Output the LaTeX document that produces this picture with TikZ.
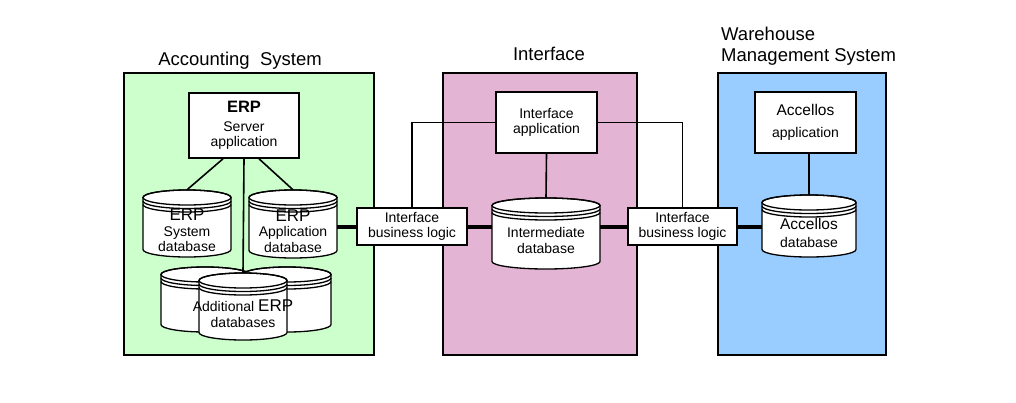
\documentclass[tikz,border=0pt]{standalone}
\usepackage{fontspec}
\setmainfont{Liberation Sans}
\usepackage{tikz}
\usetikzlibrary{positioning,calc}
\definecolor{acctgreen}{RGB}{204,255,204}
\definecolor{ifpink}{RGB}{228,180,212}
\definecolor{wmsblue}{RGB}{153,204,255}
% database: name, centre x, top, bottom, half width, text
\newcommand{\dbase}[6]{%
  \filldraw[dbline, fill=white] ({#2-#5},{#3+7.5}) -- ({#2-#5},{#4-7.5})
    arc[start angle=180, end angle=0, x radius=#5, y radius=7.5] -- ({#2+#5},{#3+7.5})
    arc[start angle=0, end angle=-180, x radius=#5, y radius=7.5] -- cycle;
  \draw[dbline] (#2,{#3+7.5}) ellipse[x radius=#5, y radius=7.5];
  \draw[dbline] ({#2-#5},{#3+11}) arc[start angle=180, end angle=0, x radius=#5, y radius=7.5];
  \draw[dbline] ({#2-#5},{#3+14.5}) arc[start angle=180, end angle=0, x radius=#5, y radius=7.5];
  \node[inner sep=0, minimum width={2*#5}, minimum height={#4-#3}] (#1) at (#2,{(#3+#4)/2}) {};
  \node[txt] (#1-txt) at (#2,{(#3+#4)/2+7}) {#6};}

\begin{document}
\begin{tikzpicture}[
    x=1pt, y=-1pt,
    font=\fontsize{14}{15.5}\selectfont,
    panel/.style={rectangle, draw=black, line width=1.8pt, minimum width=#1, minimum height=282},
    title/.style={font=\fontsize{18.5}{21}\selectfont, inner sep=0},
    txt/.style={align=center, inner sep=0},
    appbox/.style={rectangle, draw=black, line width=1.6pt, fill=white, align=center, inner sep=0},
    dbline/.style={draw=black, line width=1.3pt},
    link/.style={line width=1.6pt},
    bus/.style={line width=4pt}
]
    \useasboundingbox (0,0) rectangle (1016,402);

    % Panels
    \node[panel=250, fill=acctgreen] (acct) at (249,214) {};
    \node[panel=194, fill=ifpink] (iface) at (540,214) {};
    \node[panel=168, fill=wmsblue] (wms) at (802,214) {};
    \node[title, anchor=base] (accttitle) at (240,65) {Accounting\ \ System};
    \node[title, anchor=base] (iftitle) at (549,60) {Interface};
    \node[title, anchor=south west, align=left] (wmstitle) at (721,66) {Warehouse\\Management System};

    % Accounting system
    \node[appbox, minimum width=110, minimum height=65] (server) at (244,125.5)
        {{\fontsize{16.5}{18}\selectfont\bfseries ERP}\\[3pt]Server\\application};
    \dbase{sysdb}{187}{190}{257}{44}{{\fontsize{17}{18}\selectfont ERP}\\System\\database}
    \dbase{appdb}{293}{190}{258}{44}{{\fontsize{17}{18}\selectfont ERP}\\Application\\database}
    \dbase{addleft}{205}{267}{332}{44}{}
    \dbase{addright}{287}{267}{332}{44}{}
    \dbase{addfront}{243}{273}{340}{44}{Additional {\fontsize{17}{18}\selectfont ERP}\\databases}

    \draw[link] ($(server.south)+(-21,0)$) -- (sysdb.north);
    \draw[link] ($(server.south)+(15,0)$) -- (appdb.north);
    \draw[link] (server.south) -- (addfront.north);

    % Interface
    \node[appbox, minimum width=110, minimum height=37] (logicl) at (412,226.5) {Interface\\business logic};
    \node[appbox, minimum width=101, minimum height=61] (ifapp) at (546.5,122.5) {Interface\\application};
    \dbase{interdb}{546}{198}{269}{54}{Intermediate\\database}
    \node[appbox, minimum width=109, minimum height=37] (logicr) at (682.5,226.5) {Interface\\business logic};

    \draw[link] (ifapp.west) -| (logicl.north);
    \draw[link] (ifapp.east) -| (logicr.north);
    \draw[link] (ifapp.south) -- (interdb.north);

    % Warehouse management system
    \node[appbox, minimum width=101, minimum height=61] (accapp) at (805.5,122.5)
        {{\fontsize{15.5}{17}\selectfont Accellos}\\[6pt]application};
    \dbase{accdb}{809}{195}{257}{47}{{\fontsize{15.5}{17}\selectfont Accellos}\\[2pt]database}
    \draw[link] (accdb.north) -- (accdb.north |- accapp.south);

    % Data path
    \draw[bus] (appdb.east |- logicl.west) -- (logicl.west);
    \draw[bus] (logicl.east) -- (logicl.east -| interdb.west);
    \draw[bus] (interdb.east |- logicr.west) -- (logicr.west);
    \draw[bus] (logicr.east) -- (logicr.east -| accdb.west);
\end{tikzpicture}
\end{document}
